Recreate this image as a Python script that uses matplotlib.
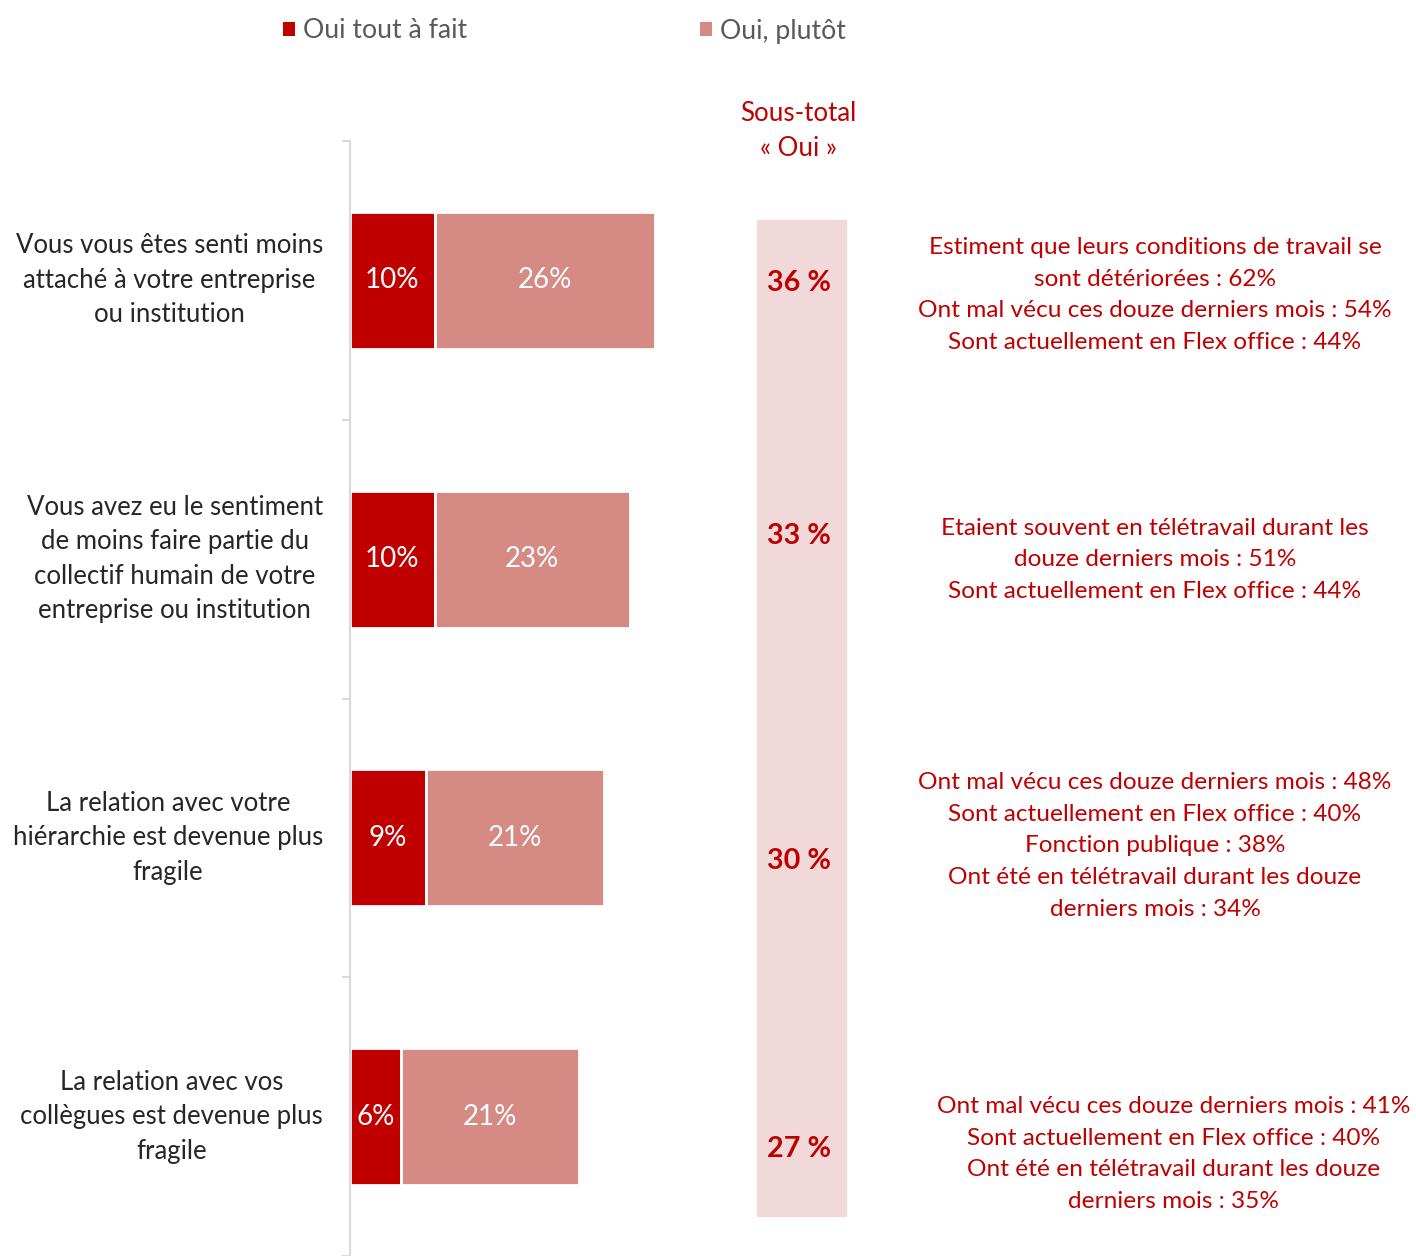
import matplotlib
matplotlib.use("Agg")
import matplotlib.pyplot as plt
from matplotlib.patches import Patch, Rectangle
from matplotlib.transforms import blended_transform_factory

plt.rcParams["font.family"] = ["Lato", "DejaVu Sans"]

# ===============================
# DATA
# ===============================
categories = [
    "Vous vous êtes senti moins\nattaché à votre entreprise\nou institution",
    "Vous avez eu le sentiment\nde moins faire partie du\ncollectif humain de votre\nentreprise ou institution",
    "La relation avec votre\nhiérarchie est devenue plus\nfragile",
    "La relation avec vos\ncollègues est devenue plus\nfragile",
]
tout_a_fait = [10, 10, 9, 6]
plutot = [26, 23, 21, 21]
series_names = ["Oui tout à fait", "Oui, plutôt"]
notes = [
    "Estiment que leurs conditions de travail se\nsont détériorées : 62%\n"
    "Ont mal vécu ces douze derniers mois : 54%\nSont actuellement en Flex office : 44%",
    "Etaient souvent en télétravail durant les\ndouze derniers mois : 51%\n"
    "Sont actuellement en Flex office : 44%",
    "Ont mal vécu ces douze derniers mois : 48%\nSont actuellement en Flex office : 40%\n"
    "Fonction publique : 38%\nOnt été en télétravail durant les douze\nderniers mois : 34%",
    "Ont mal vécu ces douze derniers mois : 41%\nSont actuellement en Flex office : 40%\n"
    "Ont été en télétravail durant les douze\nderniers mois : 35%",
]

# ===============================
# STYLE / LAYOUT
# ===============================
DARK = "#C00000"
LIGHT = "#D58A84"
COLUMN = "#F2D9D9"
GREY = "#595959"
W, H = 1416, 1256
PX_PER_PCT = 8.47
BAND = 281.0
AX_LEFT, AX_TOP = 350, 141

total_y_px = [283, 536, 861, 1149]
note_y_px = [295, 560, 846, 1154]
note_x_px = [1155, 1155, 1155, 1174]

fig = plt.figure(figsize=(W / 100, H / 100), dpi=100)
ax = fig.add_axes([AX_LEFT / W, 0, (W - AX_LEFT) / W, (H - AX_TOP) / H])
ax.set_xlim(0, (W - AX_LEFT) / PX_PER_PCT)
ax.set_ylim(-0.5 + (H - AX_TOP) / BAND, -0.5)

y = list(range(len(categories)))
ax.barh(y, tout_a_fait, height=0.492, color=DARK, edgecolor="white", linewidth=2)
ax.barh(y, plutot, left=tout_a_fait, height=0.492, color=LIGHT,
        edgecolor="white", linewidth=2)

for i in y:
    ax.text(tout_a_fait[i] / 2, i, f"{tout_a_fait[i]}%", ha="center", va="center",
            color="white", fontsize=20)
    ax.text(tout_a_fait[i] + plutot[i] / 2, i, f"{plutot[i]}%", ha="center",
            va="center", color="white", fontsize=20)

# axis styling
for s in ["top", "right", "bottom"]:
    ax.spines[s].set_visible(False)
ax.spines["left"].set_color("#D9D9D9")
ax.spines["left"].set_linewidth(1.5)
ax.set_xticks([])
ax.set_yticks([-0.5, 0.5, 1.5, 2.5, 3.5])
ax.set_yticklabels([])
ax.tick_params(axis="y", length=6, width=1.5, color="#D9D9D9")

# category labels
trans = blended_transform_factory(fig.transFigure, ax.transData)
for i, lab in enumerate(categories):
    ax.text(323 / W, i, lab, transform=trans, ha="right", va="center",
            multialignment="center", fontsize=18.5, color="#262626", linespacing=1.47)

# sub-total column
fig.patches.append(Rectangle((757 / W, 1 - 1216 / H), 89 / W, 996 / H,
                             transform=fig.transFigure, color=COLUMN, zorder=0))
fig.text(798 / W, 1 - 131 / H, "Sous-total\n« Oui »", ha="center", va="center",
         fontsize=18.6, color=DARK, linespacing=1.47)
for i in y:
    fig.text(799 / W, 1 - total_y_px[i] / H, f"{tout_a_fait[i] + plutot[i]} %",
             ha="center", va="center", fontsize=20.7, fontweight="bold", color=DARK)

# notes
for i, note in enumerate(notes):
    fig.text(note_x_px[i] / W, 1 - note_y_px[i] / H, note, ha="center", va="center",
             fontsize=17.6, color=DARK, linespacing=1.62)

# legend
handles = [Patch(facecolor=DARK, label=series_names[0]),
           Patch(facecolor=LIGHT, label=series_names[1])]
leg = fig.legend(handles=handles, loc="center left", ncol=2, frameon=False,
                 bbox_to_anchor=(272 / W, 1 - 31 / H), fontsize=19.2,
                 handlelength=0.45, handleheight=0.45, handletextpad=0.3,
                 columnspacing=8.74, borderaxespad=0)
for t in leg.get_texts():
    t.set_color(GREY)

fig.savefig("out.png", dpi=100)
